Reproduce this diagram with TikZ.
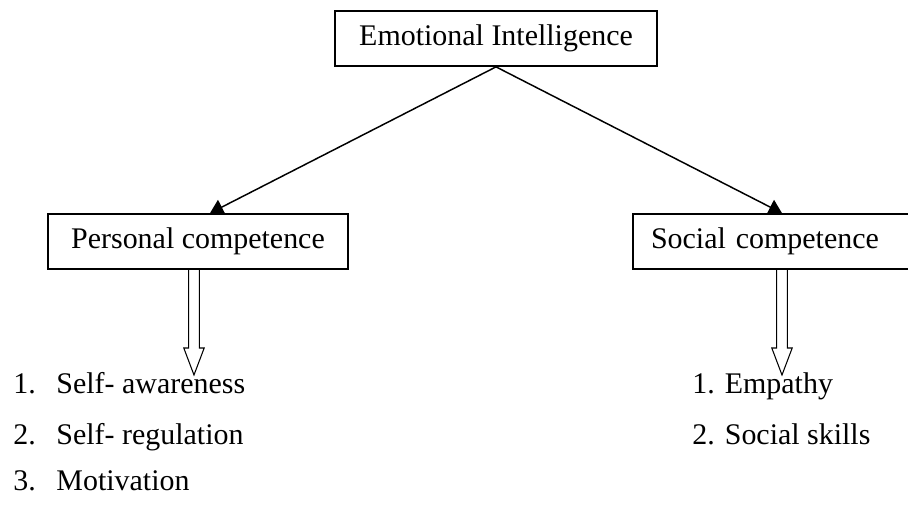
\documentclass[tikz,border=0pt]{standalone}
\usepackage{fontspec}
\setmainfont{Liberation Serif}
\usetikzlibrary{positioning,arrows.meta}
\tikzset{box/.style={draw,line width=0.8pt,minimum height=0.917cm,inner sep=0pt}}
\tikzset{item/.style={anchor=base west,inner sep=0pt}}
\tikzset{link/.style={line width=0.7pt,-{Triangle[width=0.27cm,length=0.22cm]}}}
% hollow arrow from the bottom of box #1 down to tip #2
\newcommand{\hollowarrow}[2]{%
    \coordinate (#2s) at (#2 |- #1.south);
    \draw[line width=0.5pt] ([xshift=-0.09cm]#2s) -- ([shift={(-0.09,0.45)}]#2)
        -- ([shift={(-0.17,0.45)}]#2) -- (#2) -- ([shift={(0.17,0.45)}]#2)
        -- ([shift={(0.09,0.45)}]#2) -- ([xshift=0.09cm]#2s);
}
\begin{document}
\begin{tikzpicture}[%
        every node/.style={
            font=\fontsize{14.2}{17}\selectfont,
        },
    ]
    \useasboundingbox (0,0) rectangle (15.133,8.4);

    % draw the boxes
    \node[box,minimum width=5.37cm] (ei) at (8.267,7.758) {Emotional Intelligence};
    \node[box,minimum width=5cm] (pc) at (3.3,4.375) {Personal competence};
    \node[box,text width=4.05cm,inner xsep=0.3cm,align=left] (sc) at (12.875,4.375) {Social competence};

    % tips of the hollow arrows
    \coordinate (t1) at (3.233,2.15);
    \coordinate (t2) at (13.033,2.15);

    % draw the links
    \draw[link] (ei.south) -- ([xshift=0.2cm]pc.north);
    \draw[link] (ei.south) -- (t2 |- sc.north);

    % draw the hollow arrows
    \hollowarrow{pc}{t1}
    \hollowarrow{sc}{t2}

    % place the lists
    \node[item] (p1) at (0.217,1.85) {\makebox[0.717cm][l]{1.}Self- awareness};
    \node[item] (p2) at (0.217,1.0) {\makebox[0.717cm][l]{2.}Self- regulation};
    \node[item] (p3) at (0.217,0.217) {\makebox[0.717cm][l]{3.}Motivation};
    \node[item] (s1) at (11.533,1.85) {1. Empathy};
    \node[item] (s2) at (11.533,1.0) {2. Social skills};
\end{tikzpicture}
\end{document}
